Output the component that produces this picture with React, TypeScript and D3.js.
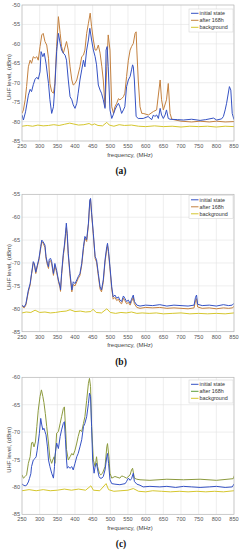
import React from "react";
import * as d3 from "d3";

// ---------- DATA ----------
const xTicks = [250, 300, 350, 400, 450, 500, 550, 600, 650, 700, 750, 800, 850];
const seriesNames = ["initial state", "after 168h", "background"];

// Panel (a)
const aInitF = [250,254,260,268,273,277,282,287,292,296,301,304,309,313,318,325,329,334,339,343,348,353,358,362,367,372,376,381,386,391,395,400,405,409,414,419,424,428,433,438,442,447,452,457,461,466,471,475,480,485,488,491,494,499,504,508,513,518,523,527,532,537,541,546,551,556,560,563,565,568,573,579,593,607,617,622,626,631,636,641,645,650,655,659,664,669,690,707,730,754,770,792,801,815,820,825,829,837,841,845,850];
const aInitV = [-78.3,-79.6,-77.5,-73.2,-71.7,-72.3,-70.5,-69.1,-68.6,-69.1,-67.2,-62,-63.3,-62.4,-65,-70.2,-74.4,-77.9,-76.2,-71,-62,-57.3,-59.9,-61.6,-62.4,-62.9,-64.2,-69.3,-73.6,-74.4,-75.7,-76.6,-75.3,-72.7,-69.3,-66.7,-64.2,-65.9,-61.6,-59,-56,-59,-61.6,-63.3,-65.4,-70.6,-71.9,-72.7,-74.4,-76.6,-61.6,-60.7,-65.9,-77,-79.2,-78.3,-77,-76,-75.3,-76.2,-77.9,-77,-76.2,-71,-69.3,-68.4,-66.7,-65.4,-65.9,-69.3,-78.7,-79.2,-79.2,-78.7,-79.5,-78.3,-78.7,-78.3,-79.2,-76.6,-78.3,-79.2,-78.3,-77,-79.2,-79.4,-79.5,-79.6,-79.4,-79.7,-79.5,-79.1,-79.6,-79.3,-78.7,-77,-75.3,-71,-71.9,-77.9,-79.5];
const aAfterF = [250,254,259,263,268,273,277,282,287,292,296,301,306,310,315,320,325,329,334,339,343,348,353,358,362,367,376,381,386,391,395,400,405,414,419,424,428,433,438,443,447,452,457,461,466,471,476,480,485,490,494,499,504,509,513,518,523,527,532,537,541,546,551,556,560,565,570,573,575,579,584,589,593,608,622,631,641,645,650,659,664,669,674,700,730,754,780,800,825,850];
const aAfterV = [-77.9,-77,-74.4,-71,-65.9,-64.2,-65,-63.3,-63.7,-63.3,-64.2,-60.7,-57.7,-57.3,-59.4,-60.3,-63.7,-70.2,-72.3,-72.7,-70.2,-60.7,-53,-57.3,-60.7,-62.4,-59.4,-61.6,-65.9,-69.3,-70.6,-70.2,-69.3,-65.9,-63.3,-62.9,-61.6,-57.3,-54.7,-52.1,-55.6,-59,-61.6,-61.6,-60.3,-62.4,-65.9,-69.3,-76.2,-65.9,-57.7,-61.6,-76.2,-77.9,-76.2,-75.3,-74.1,-74.4,-74.1,-73.6,-72.7,-68.4,-64.2,-61.6,-60.7,-59.9,-57.3,-56.9,-61.6,-69.3,-76.2,-77.9,-77.9,-78.3,-77.4,-77,-69.3,-74.4,-77,-74.4,-70.2,-77.9,-79.4,-79.9,-80.1,-79.9,-80.1,-79.9,-80.1,-80];
const aBgF = [250,265,280,295,310,325,340,355,370,385,395,410,425,440,448,455,465,478,490,497,510,525,540,560,580,600,625,650,675,700,725,750,775,800,825,850];
const aBgV = [-81.2,-81,-81.2,-80.9,-81.1,-81,-80.8,-81,-80.7,-80.4,-80.6,-80.9,-80.8,-80.5,-80.9,-80.6,-81,-81.1,-80.2,-80.9,-81.2,-80.8,-81,-80.9,-81.2,-81.3,-81.1,-81.3,-81.2,-81.4,-81.2,-81.3,-81.2,-81.4,-81.2,-81.3];

// Panel (b)
const bF = [250,256,261,268,273,277,282,285,289,293,298,303,306,310,315,318,322,325,327,331,334,339,343,348,353,358,359,362,367,370,373,375.5,378,381,386,391,395,400,405,409,414,419,424,428,433,438,442,444,447,452,457,461,466,471,475,480,485,490,492,495,499,504,508,513,518,523,527,532,537,541,546,551,556,560,565,568,575,584,600,620,640,660,680,700,720,737,741,744,747,760,780,800,820,835,845,850];
const bInitV = [-79.2,-79.6,-78.9,-75.9,-74.5,-72.3,-69.7,-70.1,-72,-70.6,-69,-66.4,-65,-65.4,-66.1,-68.6,-70.1,-70.8,-69.2,-69,-69.7,-72.3,-70.1,-71.6,-73.7,-75.2,-75.9,-72.3,-67.9,-66.1,-63.6,-61.3,-63.6,-67.9,-72.3,-75.9,-74.1,-74.5,-73.7,-73,-72.3,-70.1,-66.4,-64.2,-64.9,-61.3,-56.2,-55.9,-59,-63.6,-68.6,-69.3,-72.3,-75.2,-75.9,-73.7,-69.3,-66.4,-65.7,-67.5,-70.8,-75.2,-77.4,-77,-77.7,-77.4,-78.1,-78.4,-77.2,-77.7,-78.4,-78.1,-78.8,-77.9,-77,-78.4,-79.2,-79.4,-79.2,-79.3,-79.1,-79.4,-79.2,-79.3,-79.4,-79.2,-77.5,-77,-79,-79.3,-79.2,-79.4,-79.1,-79.3,-79.2,-78.8];
const bAfterV = [-79.4,-79.8,-79.2,-76.3,-74.8,-72.5,-69.9,-70.4,-72.3,-70.9,-69.3,-66.8,-65.4,-65.7,-66.6,-69,-70.5,-71.2,-69.7,-69.5,-70.2,-72.7,-70.6,-72,-74,-75.5,-76.2,-72.8,-68.4,-66.7,-64.3,-62.3,-64.1,-68.4,-72.9,-76.3,-74.7,-75,-74.1,-73.4,-72.7,-70.5,-66.9,-64.6,-65.3,-61.7,-56.5,-56.2,-59.4,-64,-69,-69.8,-72.8,-75.7,-76.3,-74.2,-69.8,-66.9,-66.2,-68,-71.3,-75.7,-77.9,-77.5,-78.2,-77.9,-78.6,-78.9,-77.7,-78.2,-78.9,-78.6,-79.2,-78.4,-77.5,-78.9,-79.7,-79.9,-79.7,-79.8,-79.7,-79.9,-79.8,-79.9,-80,-79.8,-78.2,-77.8,-79.6,-79.9,-79.8,-80,-79.8,-79.9,-79.8,-79.5];
const bBgF = [250,262,275,287,300,315,330,345,360,375,386,400,415,430,445,451,460,475,490,500,515,530,545,560,575,590,610,630,650,675,700,725,750,775,800,825,850];
const bBgV = [-80.9,-80.7,-80.8,-80.3,-80.8,-80.7,-80.9,-80.8,-80.6,-80.5,-80.2,-80.6,-80.5,-80.7,-80.6,-80.1,-80.8,-80.9,-80,-80.8,-81,-80.8,-80.9,-80.7,-81,-80.9,-81,-80.9,-81.1,-81,-80.9,-81.1,-81,-81.1,-81,-81.1,-80.9];

// Panel (c)
const cInitF = [250,254,259,263,268,271,275,277,282,287,290,293,296,299,303,306,309,312,315,318,322,325,329,334,339,342,343,348,353,358,362,367,370,373,376,378,381,386,391,395,400,405,409,414,419,424,428,433,438,441,444,447,450,454,457,461,464,468,471,476,480,485,490,492,495,499,504,513,527,542,546,551,556,560,565,568,575,584,593,612,640,660,685,707,730,754,780,800,825,845,851];
const cInitV = [-79.4,-79.7,-79.8,-79.7,-79.1,-78.5,-77.6,-76.3,-75.1,-74.8,-74.5,-73.3,-71.8,-70.3,-67.5,-68.7,-69.6,-69.3,-69.9,-70.5,-72.7,-75.1,-76.3,-77.5,-78.4,-76.3,-74.5,-72,-73,-70.8,-69.6,-68.4,-68.1,-71.4,-75.1,-76.6,-76.3,-76.6,-76.3,-76.9,-75.7,-74.5,-73.9,-72.7,-71.4,-69,-68.4,-67.2,-64.8,-62.9,-63.5,-69,-75.1,-77.5,-76.3,-75.7,-76.9,-78.1,-78.4,-78.4,-78.1,-76.9,-74.5,-73.9,-75.7,-78.7,-79.4,-79.5,-79.6,-79.4,-79,-78.4,-78.8,-78.5,-77.5,-79,-79.5,-79.7,-80,-79.9,-80,-79.9,-80.1,-79.9,-80,-80.1,-80,-79.9,-80.1,-80,-79.4];
const cAfterF = [250,254,259,263,268,273,277,280,284,288,292,296,301,305,309,312,316,320,325,329,334,337,341,343,348,353,358,362,367,370,374,376,381,386,391,395,400,405,409,414,419,424,428,433,438,441,444,447,452,457,461,464,469,473,478,485,490,492,496,499,504,513,527,532,537,546,556,560,563,568,575,584,612,660,707,754,800,848,851];
const cAfterV = [-77.8,-78.4,-78.1,-77.8,-75.7,-74.5,-72,-71.8,-72.7,-71.8,-69,-66,-63.5,-62.3,-63.5,-64.6,-66.6,-69,-72,-74.8,-75.7,-75.1,-74.5,-75.7,-70.2,-69.9,-68.4,-67.2,-65.7,-65.4,-70.2,-73.2,-75.1,-74.5,-73.9,-74.2,-73.3,-72,-70.8,-69.6,-69.9,-68.4,-67.2,-64.2,-61.1,-60.2,-61.7,-69,-75.1,-76.3,-74.5,-76.3,-77.5,-77.8,-77.5,-76.3,-72.7,-72.1,-74.5,-77.5,-78.4,-78.1,-78.4,-78,-78.1,-78.4,-77.8,-76.9,-76.6,-78.4,-78.6,-78.7,-78.8,-78.6,-78.7,-78.6,-78.8,-78.5,-77.9];
const cBgF = [250,270,290,310,330,350,370,390,410,430,445,452,470,488,495,510,530,550,565,580,600,620,645,670,695,720,745,770,795,820,850];
const cBgV = [-80.7,-80.5,-80.7,-80.5,-80.7,-80.6,-80.4,-80.6,-80.4,-80.6,-79.8,-80.6,-80.7,-79.4,-80.5,-80.8,-80.7,-80.6,-80.3,-80.8,-80.9,-80.7,-80.8,-80.9,-80.8,-80.9,-80.8,-80.9,-80.8,-80.9,-80.7];

// ---------- STYLE ----------
const BLUE = "#3552c4";
const ORANGE = "#c4813f";
const OLIVE = "#8c9a3e";
const GREEN = "#5f9e3a";
const YELLOW = "#d5c62e";
const FONT = "'Liberation Sans', Arial, sans-serif";

type Series = { f: number[]; v: number[]; color: string };

function Panel(props: {
  top: number; bottom: number; yMin: number; yMax: number;
  series: Series[]; legendColors: string[]; label: string; legendTop: number;
}) {
  const { top, bottom, yMin, yMax, series, legendColors, label, legendTop } = props;
  const left = 22, right = 234;
  const x = d3.scaleLinear().domain([250, 850]).range([left, right]);
  const y = d3.scaleLinear().domain([yMin, yMax]).range([bottom, top]);
  const yTicks = d3.range(yMin, yMax + 0.1, 5);
  const line = d3.line<[number, number]>().x(d => x(d[0])).y(d => y(d[1]));
  const clipId = "clip" + label.replace(/\W/g, "");
  return (
    <g>
      <defs>
        <clipPath id={clipId}><rect x={left} y={top} width={right - left} height={bottom - top} /></clipPath>
      </defs>
      <rect x={left} y={top} width={right - left} height={bottom - top} fill="#fff" />
      {xTicks.map(t => (
        <line key={"gx" + t} x1={x(t)} x2={x(t)} y1={top} y2={bottom} stroke="#e3e3e3" strokeWidth={0.6} />
      ))}
      {yTicks.map(t => (
        <line key={"gy" + t} x1={left} x2={right} y1={y(t)} y2={y(t)} stroke="#e3e3e3" strokeWidth={0.6} />
      ))}
      <g clipPath={`url(#${clipId})`}>
        {series.slice().reverse().map((s, i) => (
          <path key={i} d={line(s.f.map((f, j) => [f, s.v[j]] as [number, number])) || ""}
            fill="none" stroke={s.color} strokeWidth={1} strokeLinejoin="round" />
        ))}
      </g>
      <rect x={left} y={top} width={right - left} height={bottom - top} fill="none" stroke="#b5b5b5" strokeWidth={0.6} />
      {xTicks.map(t => (
        <text key={"tx" + t} x={x(t)} y={bottom + 7} fontSize={5.6} fill="#555" textAnchor="middle" fontFamily={FONT}>{t}</text>
      ))}
      {yTicks.map(t => (
        <text key={"ty" + t} x={left - 2} y={y(t) + 2} fontSize={5.6} fill="#555" textAnchor="end" fontFamily={FONT}>{t}</text>
      ))}
      <text x={(left + right) / 2 + 2} y={bottom + 15.5} fontSize={6} fill="#444" textAnchor="middle" fontFamily={FONT}>frequency, (MHz)</text>
      <text transform={`translate(11,${(top + bottom) / 2 + 4}) rotate(-90)`} fontSize={6} fill="#444" textAnchor="middle" fontFamily={FONT}>UHF level, (dBm)</text>
      <g>
        <rect x={189} y={legendTop} width={44} height={23} fill="#fff" stroke="#d0d0d0" strokeWidth={0.5} />
        {seriesNames.map((n, i) => (
          <g key={n}>
            <line x1={191} x2={198.5} y1={legendTop + 4.3 + i * 7} y2={legendTop + 4.3 + i * 7} stroke={legendColors[i]} strokeWidth={1} />
            <text x={199.5} y={legendTop + 6.2 + i * 7} fontSize={5.4} fill="#333" fontFamily={FONT}>{n}</text>
          </g>
        ))}
      </g>
      <text x={121} y={bottom + 33} fontSize={9.5} fontWeight="bold" fill="#111" textAnchor="middle" fontFamily="'Liberation Serif', 'Times New Roman', serif">{label}</text>
    </g>
  );
}

export default function App() {
  return (
    <svg width={242} height={550} style={{ position: "absolute", left: 0, top: 0, background: "#fff" }}>
      <rect width={242} height={550} fill="#fff" />
      <Panel top={5} bottom={141} yMin={-85} yMax={-50} label="(a)" legendTop={9}
        legendColors={[BLUE, ORANGE, YELLOW]}
        series={[{ f: aInitF, v: aInitV, color: BLUE }, { f: aAfterF, v: aAfterV, color: ORANGE }, { f: aBgF, v: aBgV, color: YELLOW }]} />
      <Panel top={194.3} bottom={331.7} yMin={-85} yMax={-55} label="(b)" legendTop={195.5}
        legendColors={[BLUE, ORANGE, YELLOW]}
        series={[{ f: bF, v: bInitV, color: BLUE }, { f: bF, v: bAfterV, color: ORANGE }, { f: bBgF, v: bBgV, color: YELLOW }]} />
      <Panel top={377.3} bottom={514.3} yMin={-85} yMax={-60} label="(c)" legendTop={380}
        legendColors={[BLUE, GREEN, YELLOW]}
        series={[{ f: cInitF, v: cInitV, color: BLUE }, { f: cAfterF, v: cAfterV, color: OLIVE }, { f: cBgF, v: cBgV, color: YELLOW }]} />
    </svg>
  );
}
